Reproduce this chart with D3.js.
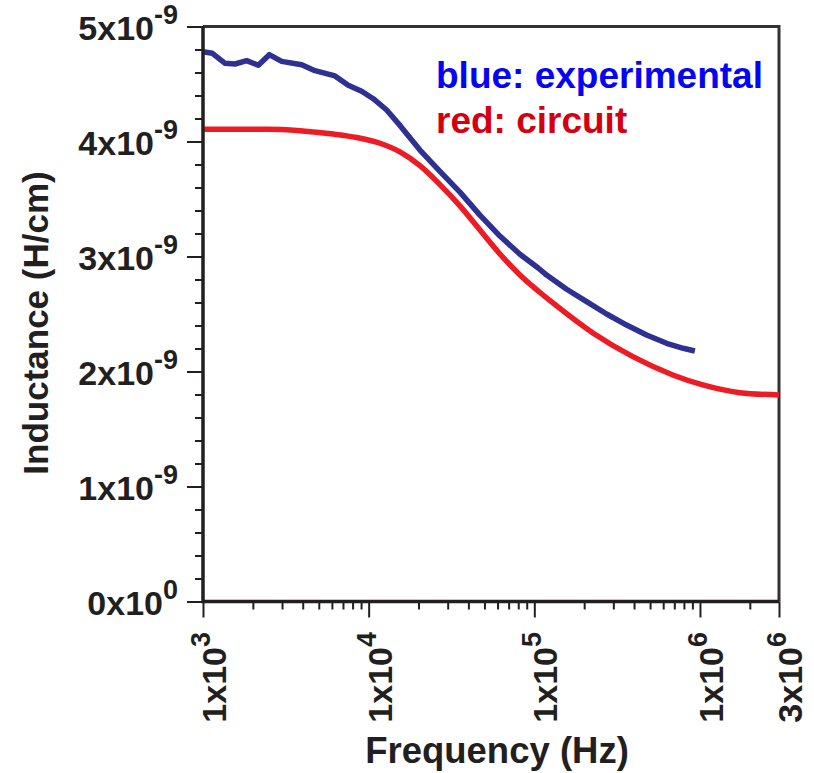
<!DOCTYPE html>
<html>
<head>
<meta charset="utf-8">
<script src="https://cdn.jsdelivr.net/npm/d3@7"></script>
<style>
  html, body { margin: 0; padding: 0; background: #ffffff; }
  svg { display: block; }
  text { font-family: "Liberation Sans", Arial, Helvetica, sans-serif; font-weight: bold; }
</style>
</head>
<body>
<svg id="chart" width="814" height="773"></svg>
<script>
// Measured inductance (units of 1e-9 H/cm) versus frequency (Hz)
const freqExperimental = [1000, 1140, 1360, 1560, 1835, 2157, 2513, 2985, 3942, 4742,
  6260, 7532, 9074, 10660, 12840, 15450, 20400, 26930, 35560, 46960, 62000, 81880,
  105600, 118700, 156700, 206900, 273200, 360600, 476100, 628600, 791800, 931500];
const indExperimental = [4.781, 4.767, 4.680, 4.674, 4.703, 4.663, 4.755, 4.697, 4.668, 4.616,
  4.570, 4.489, 4.437, 4.372, 4.274, 4.140, 3.926, 3.740, 3.560, 3.360, 3.178, 3.020,
  2.900, 2.839, 2.715, 2.607, 2.500, 2.404, 2.317, 2.245, 2.202, 2.178];

// Equivalent-circuit model (units of 1e-9 H/cm)
const freqCircuit = [1000, 2420, 3845, 6110, 8470, 11700, 15450, 20400, 26930, 35560,
  46960, 62000, 81880, 105600, 129500, 225800, 393600, 686000, 1040000, 1740000, 3000000];
const indCircuit = [4.106, 4.106, 4.094, 4.065, 4.035, 3.985, 3.910, 3.790, 3.625, 3.440,
  3.230, 3.022, 2.840, 2.700, 2.596, 2.335, 2.129, 1.970, 1.883, 1.816, 1.796];

// Axis ticks and labels
const xMajorTicks = [1e3, 1e4, 1e5, 1e6, 3e6];
const xMantissa = ["1", "1", "1", "1", "3"];
const xExponent = ["3", "4", "5", "6", "6"];
const xMinorTicks = [2e3, 3e3, 4e3, 5e3, 6e3, 7e3, 8e3, 9e3,
  2e4, 3e4, 4e4, 5e4, 6e4, 7e4, 8e4, 9e4,
  2e5, 3e5, 4e5, 5e5, 6e5, 7e5, 8e5, 9e5, 2e6];
const yMajorTicks = [0, 1, 2, 3, 4, 5];
const yMantissa = ["0", "1", "2", "3", "4", "5"];
const yExponent = ["0", "-9", "-9", "-9", "-9", "-9"];
const yMinorTicks = [0.2, 0.4, 0.6, 0.8, 1.2, 1.4, 1.6, 1.8, 2.2, 2.4, 2.6, 2.8,
  3.2, 3.4, 3.6, 3.8, 4.2, 4.4, 4.6, 4.8];

const xTitle = "Frequency (Hz)";
const yTitle = "Inductance (H/cm)";
const legendLabels = ["blue: experimental", "red: circuit"];

const ink = "#231f20";
const svg = d3.select("#chart");

const plotLeft = 203, plotRight = 779, plotTop = 26.5, plotBottom = 601.5;
const x = d3.scaleLog().domain([1e3, 3e6]).range([plotLeft, plotRight]);
const y = d3.scaleLinear().domain([0, 5]).range([plotBottom, plotTop]);

// Frame (top and right edges)
svg.append("path")
  .attr("d", `M${plotLeft},${plotTop}H${plotRight}V${plotBottom}`)
  .attr("fill", "none").attr("stroke", "#333").attr("stroke-width", 3);

// Curves
const lineExp = d3.line().x(d => x(d[0])).y(d => y(d[1])).curve(d3.curveLinear);
const lineCir = d3.line().x(d => x(d[0])).y(d => y(d[1])).curve(d3.curveMonotoneX);

svg.append("path")
  .datum(d3.zip(freqCircuit, indCircuit))
  .attr("d", lineCir)
  .attr("fill", "none").attr("stroke", "#ed1c24").attr("stroke-width", 5.5)
  .attr("stroke-linejoin", "round");

svg.append("path")
  .datum(d3.zip(freqExperimental, indExperimental))
  .attr("d", lineExp)
  .attr("fill", "none").attr("stroke", "#2e3192").attr("stroke-width", 5.5)
  .attr("stroke-linejoin", "round");

// Axes
function styleAxis(g) {
  g.select(".domain").remove();
  g.selectAll(".tick line").attr("stroke", ink).attr("stroke-width", 2);
}
svg.append("g").attr("transform", `translate(0,${plotBottom})`)
  .call(d3.axisBottom(x).tickValues(xMajorTicks).tickSize(16).tickFormat(""))
  .call(styleAxis);
svg.append("g").attr("transform", `translate(0,${plotBottom})`)
  .call(d3.axisBottom(x).tickValues(xMinorTicks).tickSize(8).tickFormat(""))
  .call(styleAxis);
svg.append("g").attr("transform", `translate(${plotLeft},0)`)
  .call(d3.axisLeft(y).tickValues(yMajorTicks).tickSize(16).tickFormat(""))
  .call(styleAxis);
svg.append("g").attr("transform", `translate(${plotLeft},0)`)
  .call(d3.axisLeft(y).tickValues(yMinorTicks).tickSize(8).tickFormat(""))
  .call(styleAxis);

// Axis lines
svg.append("path")
  .attr("d", `M${plotLeft},${plotTop}V${plotBottom}H${plotRight}`)
  .attr("fill", "none").attr("stroke", ink).attr("stroke-width", 3.5);

// Y tick labels with powers of ten
yMajorTicks.forEach((v, i) => {
  const t = svg.append("text")
    .attr("x", 178).attr("y", y(v) + 13)
    .attr("text-anchor", "end").attr("fill", ink)
    .style("font-size", "34px");
  t.append("tspan").text(yMantissa[i] + "x10");
  t.append("tspan").attr("dy", -16).style("font-size", "27px").text(yExponent[i]);
});

// X tick labels, rotated
xMajorTicks.forEach((v, i) => {
  const t = svg.append("text")
    .attr("transform", `translate(${x(v) + 23},632) rotate(-90)`)
    .attr("text-anchor", "end").attr("fill", ink)
    .style("font-size", "34px");
  t.append("tspan").text(xMantissa[i] + "x10");
  t.append("tspan").attr("dy", -16).style("font-size", "27px").text(xExponent[i]);
});

// Axis titles
svg.append("text")
  .attr("x", 497).attr("y", 763)
  .attr("text-anchor", "middle").attr("fill", ink)
  .style("font-size", "36.5px").text(xTitle);
svg.append("text")
  .attr("transform", `translate(48,323) rotate(-90)`)
  .attr("text-anchor", "middle").attr("fill", ink)
  .style("font-size", "35px").text(yTitle);

// Legend
svg.append("text").attr("x", 436).attr("y", 88)
  .attr("fill", "#0505f2").style("font-size", "37px").text(legendLabels[0]);
svg.append("text").attr("x", 436).attr("y", 133)
  .attr("fill", "#d5000f").style("font-size", "37px").text(legendLabels[1]);
</script>
</body>
</html>
